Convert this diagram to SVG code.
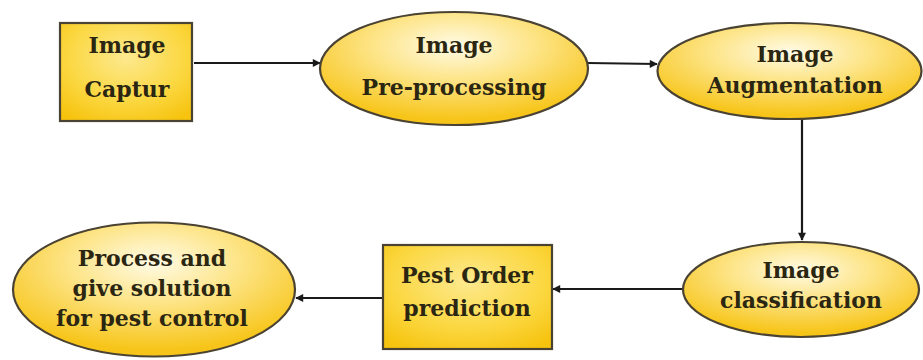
<svg xmlns="http://www.w3.org/2000/svg" width="923" height="360" viewBox="0 0 923 360">
<style>
.node{stroke:#4a4232;stroke-width:2.2}
.ell{fill:url(#ge)}
.box{fill:url(#gb)}
.t{font-family:'DejaVu Serif','Liberation Serif',serif;font-weight:700;font-size:22px;fill:#2b2612;text-anchor:middle}
.c{stroke:#1a1a1a;stroke-width:2.2;fill:none;marker-end:url(#ah)}
</style>
<defs>
<radialGradient id="ge" cx="0.5" cy="0.3" r="0.65">
<stop offset="0" stop-color="#fffbe6"/>
<stop offset="0.45" stop-color="#fde58a"/>
<stop offset="1" stop-color="#f7c51a"/>
</radialGradient>
<radialGradient id="gb" cx="0.5" cy="0.35" r="0.75">
<stop offset="0" stop-color="#fde98f"/>
<stop offset="0.6" stop-color="#fbd740"/>
<stop offset="1" stop-color="#f6c30e"/>
</radialGradient>
<marker id="ah" viewBox="0 0 10 10" refX="9" refY="5" markerWidth="9" markerHeight="8" markerUnits="userSpaceOnUse" orient="auto">
<path d="M0,0 L10,5 L0,10 z" fill="#1a1a1a"/>
</marker>
</defs>
<g id="connectors">
<line class="c" x1="194" y1="63" x2="320" y2="63"/>
<line class="c" x1="588" y1="63" x2="657" y2="64"/>
<line class="c" x1="802" y1="119" x2="802" y2="240"/>
<line class="c" x1="683" y1="289" x2="553" y2="289"/>
<line class="c" x1="383" y1="298" x2="296" y2="298"/>
</g>
<g id="image-capture">
<rect class="node box" x="60" y="23" width="132" height="98"/>
<text class="t" x="127" y="53">Image</text>
<text class="t" x="127" y="97">Captur</text>
</g>
<g id="pre-processing">
<ellipse class="node ell" cx="454" cy="68.5" rx="134" ry="56.5"/>
<text class="t" x="454" y="53">Image</text>
<text class="t" x="454" y="95">Pre-processing</text>
</g>
<g id="augmentation">
<ellipse class="node ell" cx="789.5" cy="71" rx="132" ry="48"/>
<text class="t" x="795" y="62">Image</text>
<text class="t" x="795" y="93">Augmentation</text>
</g>
<g id="classification">
<ellipse class="node ell" cx="801" cy="289.5" rx="118" ry="47.5"/>
<text class="t" x="801" y="278">Image</text>
<text class="t" x="801" y="308">classification</text>
</g>
<g id="pest-order">
<rect class="node box" x="383" y="245" width="169" height="104"/>
<text class="t" x="467" y="283">Pest Order</text>
<text class="t" x="467" y="316">prediction</text>
</g>
<g id="process">
<ellipse class="node ell" cx="154" cy="289.5" rx="141" ry="67"/>
<text class="t" x="152" y="266">Process and</text>
<text class="t" x="152" y="296">give solution</text>
<text class="t" x="152" y="326">for pest control</text>
</g>
</svg>
